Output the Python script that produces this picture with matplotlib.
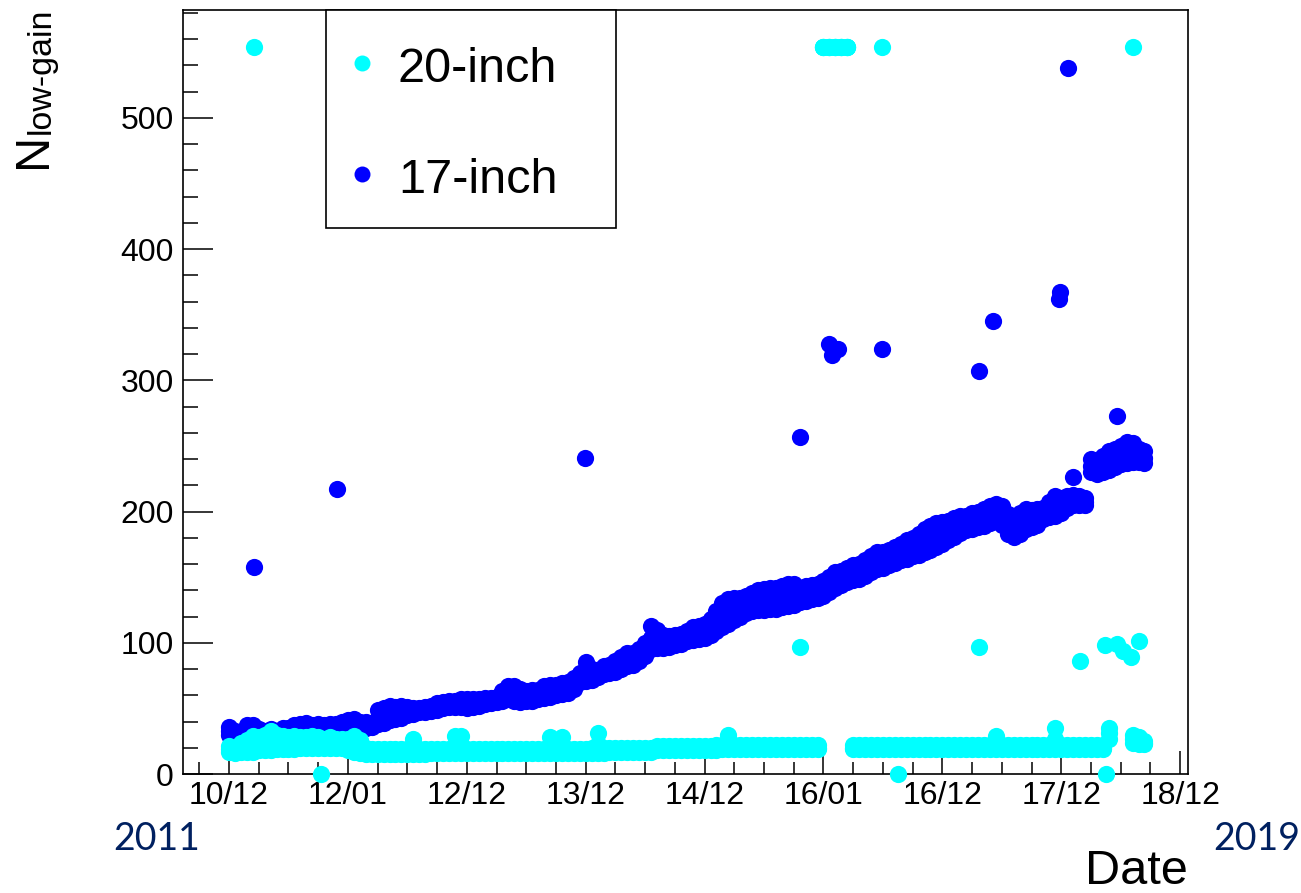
import numpy as np
import matplotlib
matplotlib.use("Agg")
import matplotlib.pyplot as plt
import matplotlib.transforms as mtransforms
from matplotlib.patches import Rectangle
from matplotlib.lines import Line2D

# ---------------- data ----------------
# runs are sampled every 0.05 year from 2011.00 to 2018.70 (155 runs);
# for each run the lower edge, centre and upper edge of the measured spread
run_start = 2011.0
run_step = 0.05
nan = np.nan

# 17-inch PMTs
n17_low = [
    30, 28, 28, 30, 31, 30, 29, 30, 30, 31,
    32, 33, 34, 35, 34, 34, 34, 35, 35, 36,
    37, 38, 36, 35, 36, 38, 39, 41, 42, 43,
    45, 46, 47, 47, 48, 49, 50, 51, 51, 51,
    50, 51, 52, 53, 54, 55, 56, 57, 56, 55,
    56, 56, 57, 58, 59, 60, 61, 62, 65, 70,
    71, 72, 74, 76, 77, 78, 80, 82, 83, 86,
    90, 95, 96, 96, 97, 98, 99, 101, 102, 103,
    104, 106, 109, 112, 114, 117, 120, 123, 124, 125,
    125, 126, 126, 127, 128, 129, 131, 132, 133, 134,
    136, 139, 142, 144, 146, 148, 149, 151, 154, 156,
    157, 159, 161, 163, 164, 166, 167, 169, 171, 173,
    175, 178, 181, 184, 186, 187, 188, 189, 191, 193,
    190, 183, 181, 183, 187, 188, 190, 194, 196, 197,
    199, 203, 205, 205, 205, 230, 229, 230, 232, 234,
    236, 237, 238, 238, 237,
]
n17_mid = [
    33, 30, 29, 33, 34, 32, 31, 32, 31, 33,
    33, 35, 36, 37, 36, 36, 35, 36, 36, 38,
    39, 40, 38, 37, 37, 43, 44, 46, 46, 47,
    48, 48, 48, 49, 50, 51, 52, 53, 53, 54,
    53, 54, 54, 55, 56, 57, 59, 62, 61, 60,
    59, 60, 60, 62, 63, 64, 65, 66, 69, 73,
    78, 76, 76, 79, 80, 82, 84, 87, 87, 90,
    95, 104, 103, 101, 101, 102, 103, 105, 107, 108,
    109, 112, 116, 121, 123, 125, 127, 129, 131, 132,
    133, 134, 134, 135, 136, 137, 136, 137, 138, 139,
    141, 144, 148, 149, 151, 153, 154, 157, 160, 162,
    163, 165, 167, 169, 171, 173, 175, 178, 180, 182,
    183, 185, 188, 190, 191, 193, 194, 195, 197, 199,
    197, 190, 188, 191, 194, 194, 196, 198, 201, 204,
    204, 207, 209, 208, 207, 235, 234, 236, 239, 241,
    243, 245, 245, 243, 241,
]
n17_high = [
    36, 33, 30, 37, 37, 34, 33, 34, 33, 35,
    35, 37, 38, 39, 37, 38, 37, 38, 38, 40,
    41, 42, 40, 40, 39, 49, 50, 52, 51, 52,
    51, 50, 50, 51, 52, 54, 55, 56, 56, 57,
    57, 57, 57, 58, 58, 59, 63, 67, 67, 65,
    63, 64, 64, 67, 68, 68, 69, 70, 73, 77,
    85, 80, 79, 82, 83, 86, 89, 92, 92, 95,
    100, 113, 110, 106, 105, 106, 107, 109, 112, 113,
    114, 118, 124, 130, 133, 134, 134, 136, 138, 140,
    141, 142, 142, 143, 145, 145, 142, 143, 144, 145,
    147, 150, 154, 155, 157, 159, 160, 163, 166, 169,
    169, 171, 173, 175, 178, 180, 183, 187, 189, 191,
    192, 193, 195, 197, 197, 199, 200, 202, 204, 206,
    204, 198, 196, 199, 202, 201, 202, 203, 207, 212,
    210, 212, 213, 212, 210, 240, 239, 242, 246, 248,
    250, 253, 252, 248, 246,
]

# 20-inch PMTs (nan = no run in the band)
n20_low = [
    17, 16, 17, 17, 17, 18, 18, 18, 19, 19,
    19, 19, 20, 20, 20, 20, 20, 20, 20, 20,
    18, 17, 16, 15, 15, 15, 15, 15, 15, 15,
    15, 15, 15, 15, 16, 16, 16, 16, 16, 16,
    16, 16, 16, 16, 16, 16, 16, 16, 16, 16,
    16, 16, 16, 16, 16, 16, 16, 16, 16, 16,
    16, 16, 16, 16, 17, 17, 17, 17, 17, 17,
    17, 17, 18, 18, 18, 18, 18, 18, 18, 18,
    18, 18, 18, 19, 19, 19, 19, 19, 19, 19,
    19, 19, 19, 19, 19, 19, 19, 19, 19, 19,
    554, 554, 554, 554, 554, 19, 19, 19, 19, 19,
    19, 19, 19, 19, 19, 19, 19, 19, 19, 19,
    19, 19, 19, 19, 19, 19, 19, 19, 19, 19,
    19, 19, 19, 19, 19, 19, 19, 19, 19, 19,
    19, 19, 19, 19, 19, 19, 19, 19, 27, nan,
    nan, nan, 24, 23, 23,
]
n20_mid = [
    19, 18, 20, 21, 23, 23, 24, 25, 24, 24,
    23, 24, 24, 24, 24, 24, 23, 24, 23, 23,
    22, 23, 21, 17, 17, 17, 17, 17, 17, 17,
    17, 21, 17, 17, 17, 17, 17, 17, 22, 22,
    17, 17, 17, 17, 17, 17, 17, 17, 17, 17,
    17, 17, 17, 17, 22, 18, 22, 17, 17, 17,
    17, 18, 23, 18, 18, 18, 18, 18, 18, 18,
    18, 18, 19, 19, 19, 19, 19, 19, 19, 19,
    19, 19, 20, 20, 24, 20, 20, 20, 20, 20,
    20, 20, 20, 20, 20, 20, 20, 20, 20, 20,
    554, 554, 554, 554, 554, 20, 20, 20, 20, 20,
    20, 20, 20, 20, 20, 20, 20, 20, 20, 20,
    20, 20, 20, 20, 20, 20, 20, 20, 20, 24,
    20, 20, 20, 20, 20, 20, 20, 20, 20, 27,
    20, 20, 20, 20, 20, 20, 20, 20, 31, nan,
    nan, nan, 27, 25, 24,
]
n20_high = [
    21, 20, 24, 26, 29, 28, 30, 33, 30, 29,
    28, 29, 28, 28, 29, 28, 27, 28, 27, 27,
    27, 29, 26, 20, 19, 19, 19, 19, 19, 19,
    19, 27, 19, 19, 19, 19, 19, 19, 29, 29,
    19, 19, 19, 19, 19, 19, 19, 19, 19, 19,
    19, 19, 19, 19, 28, 20, 28, 19, 19, 19,
    19, 20, 31, 20, 20, 20, 20, 20, 20, 20,
    20, 20, 21, 21, 21, 21, 21, 21, 21, 21,
    21, 21, 22, 22, 30, 22, 22, 22, 22, 22,
    22, 22, 22, 22, 22, 22, 22, 22, 22, 22,
    554, 554, 554, 554, 554, 22, 22, 22, 22, 22,
    22, 22, 22, 22, 22, 22, 22, 22, 22, 22,
    22, 22, 22, 22, 22, 22, 22, 22, 22, 29,
    22, 22, 22, 22, 22, 22, 22, 22, 22, 35,
    22, 22, 22, 22, 22, 22, 22, 22, 35, nan,
    nan, nan, 30, 28, 25,
]

# isolated runs
n17_out_t = [2011.21, 2011.91, 2013.99, 2015.80, 2016.05, 2016.12, 2016.07,
             2016.49, 2017.31, 2017.43, 2017.98, 2017.99, 2018.06, 2018.10, 2018.47]
n17_out_v = [158, 217, 241, 257, 328, 324, 319,
             324, 307, 345, 362, 367, 538, 226, 273]

n20_out_t = [2011.21, 2016.49, 2018.60, 2015.80, 2017.31, 2018.16, 2018.37,
             2018.47, 2018.52, 2018.59, 2018.65, 2011.77, 2016.63, 2018.38]
n20_out_v = [554, 554, 554, 97, 97, 86, 98,
             99, 94, 89, 101, 0, 0, 0]

tick_years = [2011, 2012, 2013, 2014, 2015, 2016, 2017, 2018, 2019]
tick_labels = ["10/12", "12/01", "12/12", "13/12", "14/12",
               "16/01", "16/12", "17/12", "18/12"]

# ---------------- figure ----------------
W, H = 1301, 893
fig = plt.figure(figsize=(W / 100, H / 100), dpi=100)
fig.patch.set_facecolor("white")

ax_l, ax_r, ax_t, ax_b = 183, 1188, 10, 774
ax = fig.add_axes([ax_l / W, 1 - ax_b / H, (ax_r - ax_l) / W, (ax_b - ax_t) / H])

t_run = run_start + run_step * np.arange(len(n17_low))

ms = 12.4
blue = "#0000FF"
cyan = "#00FFFF"
kw = dict(ms=ms, mew=0, ls="none", clip_on=False)
for series in (n17_low, n17_mid, n17_high):
    ax.plot(t_run, series, "o", color=blue, zorder=3, **kw)
ax.plot(n17_out_t, n17_out_v, "o", color=blue, zorder=3, **kw)
for series in (n20_low, n20_mid, n20_high):
    ax.plot(t_run, series, "o", color=cyan, zorder=4, **kw)
ax.plot(n20_out_t, n20_out_v, "o", color=cyan, zorder=4, **kw)

ax.set_xlim(2010.613, 2019.066)
ax.set_ylim(0, 582.3)
ax.set_axisbelow(True)

ax.set_xticks(tick_years)
ax.set_xticklabels(tick_labels)
ax.set_xticks(np.arange(2010.75, 2019.01, 0.25), minor=True)
ax.set_yticks(np.arange(0, 501, 100))
ax.set_yticks(np.arange(0, 581, 20), minor=True)

fam = ["Liberation Sans", "DejaVu Sans"]
shift = mtransforms.ScaledTranslation(-5 / 100, 0, fig.dpi_scale_trans)
for lab in ax.get_xticklabels():
    lab.set_transform(lab.get_transform() + shift)
for lab in ax.get_xticklabels() + ax.get_yticklabels():
    lab.set_fontfamily(fam)
    lab.set_fontsize(23)

ax.tick_params(axis="x", which="major", direction="in", length=16.5, width=1.1, pad=5,
               top=False, colors="black")
ax.tick_params(axis="x", which="minor", direction="in", length=8.5, width=1.1, top=False)
ax.tick_params(axis="y", which="major", direction="in", length=21.5, width=1.1, pad=6.5,
               right=False)
ax.tick_params(axis="y", which="minor", direction="in", length=10.8, width=1.1, right=False)

for s in ax.spines.values():
    s.set_linewidth(1.2)
    s.set_color("black")


def px(x, y):
    return (x / W, 1 - y / H)


# legend box (ROOT TLegend look)
box = Rectangle(px(326, 228), 290 / W, 218 / H, transform=fig.transFigure,
                facecolor="white", edgecolor="black", lw=1.2, zorder=5)
fig.patches.append(box)
for (yy, col, name, base) in [(63, cyan, "20-inch", 81.5), (174, blue, "17-inch", 193)]:
    fig.lines.append(Line2D([362 / W], [1 - yy / H], marker="o", ms=11.5, mew=0,
                            color=col, ls="none", transform=fig.transFigure, zorder=6))
    fig.text(398 / W, 1 - base / H, name, fontsize=35, family=fam,
             ha="left", va="baseline", zorder=6)

# axis titles
fig.text(33 / W, 1 - 150 / H, "N", fontsize=35, family=fam, rotation=90,
         ha="center", va="center")
fig.text(41 / W, 1 - 71 / H, "low-gain", fontsize=24.5, family=fam, rotation=90,
         ha="center", va="center")
fig.text(1188 / W, 1 - 884 / H, "Date", fontsize=35, family=fam,
         ha="right", va="baseline")

# year annotations
fig.text(113 / W, 1 - 850 / H, "2011", fontsize=27, family=["Lato", "DejaVu Sans"],
         color="#002060", ha="left", va="baseline")
fig.text(1213 / W, 1 - 850 / H, "2019", fontsize=27, family=["Lato", "DejaVu Sans"],
         color="#002060", ha="left", va="baseline")

fig.savefig("out.png", dpi=100)
